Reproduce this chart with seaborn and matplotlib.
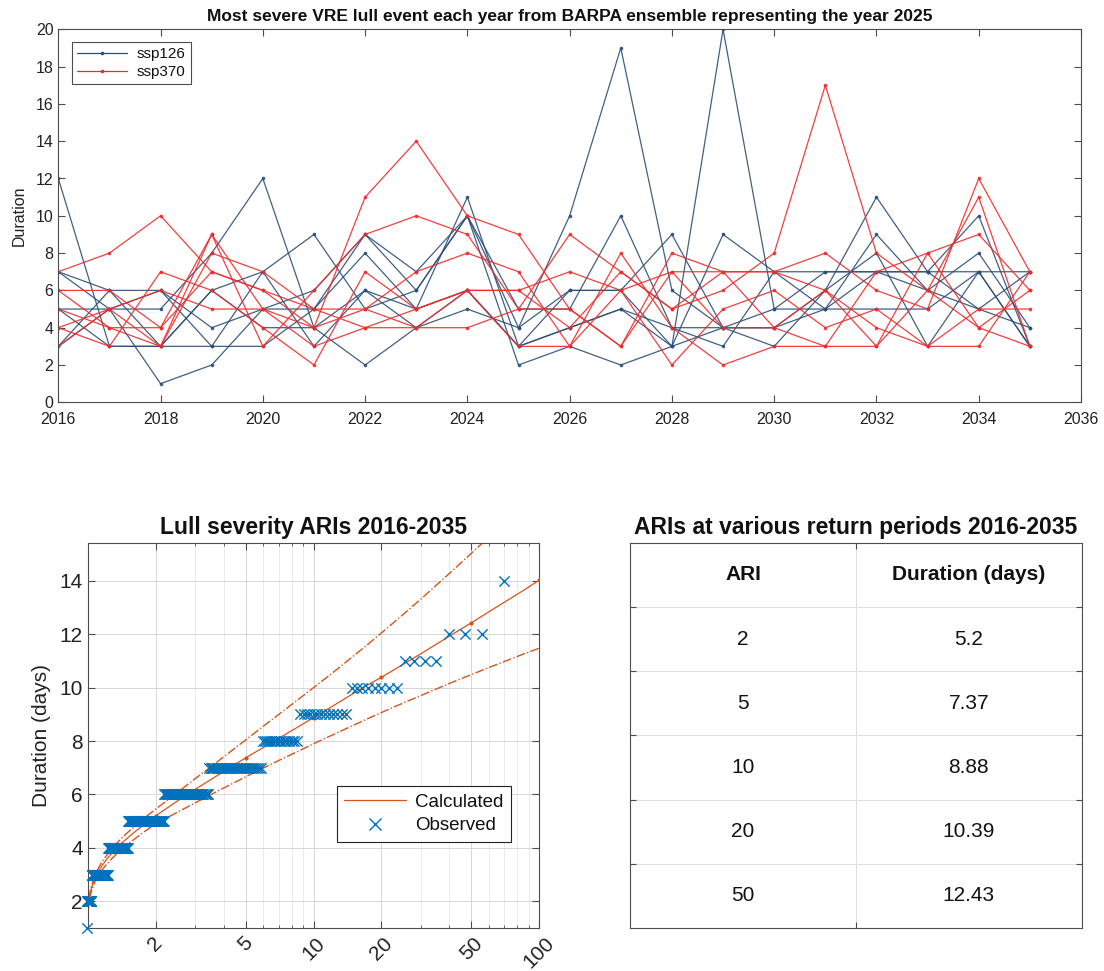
import numpy as np
import pandas as pd
import matplotlib
matplotlib.use("Agg")
import matplotlib.pyplot as plt
from matplotlib.lines import Line2D
from matplotlib.ticker import FixedLocator, LogLocator, NullFormatter
import seaborn as sns

# ---------------------------------------------------------------- data
years = list(range(2016, 2036))

# ssp126 ensemble members: longest lull (days) each year
ssp126_m1 = [12, 3, 3, 3, 7, 9, 5, 6, 10, 4, 6, 6, 3, 20, 5, 7, 7, 7, 7, 7]
ssp126_m2 = [7, 6, 6, 3, 3, 5, 8, 5, 11, 3, 4, 5, 4, 4, 3, 6, 11, 7, 10, 3]
ssp126_m3 = [7, 5, 1, 2, 5, 6, 9, 6, 10, 2, 3, 2, 3, 9, 7, 5, 9, 6, 8, 4]
ssp126_m4 = [5, 5, 5, 8, 12, 4, 2, 4, 5, 4, 10, 19, 6, 4, 4, 6, 8, 3, 7, 3]
ssp126_m5 = [3, 6, 3, 6, 7, 3, 6, 5, 6, 3, 6, 6, 9, 4, 5, 5, 5, 5, 7, 3]
ssp126_m6 = [3, 5, 6, 4, 5, 5, 9, 7, 10, 5, 5, 10, 4, 3, 7, 7, 7, 6, 5, 4]
ssp126_m7 = [5, 3, 3, 6, 4, 4, 6, 4, 6, 3, 4, 5, 3, 4, 4, 5, 7, 7, 5, 7]

# ssp370 ensemble members
ssp370_m1 = [7, 8, 10, 7, 6, 4, 11, 14, 10, 9, 5, 3, 8, 7, 7, 8, 6, 5, 12, 7]
ssp370_m2 = [6, 6, 4, 9, 3, 6, 9, 10, 9, 5, 9, 7, 5, 6, 8, 17, 8, 6, 11, 3]
ssp370_m3 = [5, 4, 3, 8, 7, 5, 5, 7, 8, 7, 3, 8, 4, 2, 3, 3, 3, 8, 9, 6]
ssp370_m4 = [4, 3, 7, 6, 4, 2, 7, 5, 6, 6, 7, 6, 2, 5, 6, 4, 5, 3, 5, 5]
ssp370_m5 = [3, 5, 6, 5, 5, 3, 4, 4, 4, 5, 5, 3, 7, 7, 4, 6, 4, 3, 3, 7]
ssp370_m6 = [6, 4, 4, 7, 6, 5, 4, 5, 6, 3, 3, 6, 7, 4, 4, 3, 7, 8, 4, 3]
ssp370_m7 = [4, 5, 3, 9, 5, 4, 5, 4, 6, 6, 4, 7, 5, 7, 7, 6, 3, 6, 4, 6]

# fitted ARI curve (days) with upper / lower confidence bounds
fit_ari = [1.0001, 1.001, 1.01, 1.03, 1.06, 1.1, 1.15, 1.2, 1.27, 1.35, 1.42,
           1.5, 1.6, 1.75, 1.87, 2, 2.5, 3, 3.5, 4, 5, 6, 7, 8.5, 10, 12, 15,
           17.5, 20, 25, 30, 40, 50, 60, 70, 85, 100]
fit_mid = [1.0, 1.32, 1.95, 2.38, 2.72, 3.03, 3.30, 3.52, 3.77, 4.01, 4.19,
           4.37, 4.57, 4.83, 5.02, 5.2, 5.76, 6.2, 6.55, 6.86, 7.37, 7.76, 8.10,
           8.52, 8.88, 9.28, 9.78, 10.12, 10.39, 10.88, 11.28, 11.93, 12.43,
           12.85, 13.2, 13.64, 14.03]
fit_upper = [1.0, 1.34, 2.01, 2.46, 2.82, 3.15, 3.44, 3.67, 3.93, 4.19, 4.38,
             4.57, 4.78, 5.06, 5.26, 5.45, 6.08, 6.60, 7.03, 7.41, 8.04, 8.56,
             8.99, 9.54, 10.0, 10.52, 11.18, 11.64, 12.05, 12.75, 13.33, 14.28,
             15.03, 15.66, 16.21, 16.90, 17.5]
fit_lower = [1.0, 1.30, 1.88, 2.28, 2.60, 2.88, 3.14, 3.34, 3.57, 3.79, 3.96,
             4.13, 4.31, 4.56, 4.73, 4.90, 5.34, 5.69, 5.99, 6.24, 6.66, 6.99,
             7.27, 7.61, 7.90, 8.21, 8.59, 8.85, 9.07, 9.43, 9.71, 10.16, 10.49,
             10.76, 10.98, 11.26, 11.48]

# observed lull durations (days) and how many events of each
obs_duration = [14, 12, 11, 10, 9, 8, 7, 6, 5, 4, 3, 2, 1]
obs_count = [1, 3, 4, 8, 13, 15, 34, 47, 57, 42, 42, 13, 1]

# summary table
table_ari = [2, 5, 10, 20, 50]
table_duration = [5.2, 7.37, 8.88, 10.39, 12.43]

# ---------------------------------------------------------------- style
sns.set_theme(style="ticks")
plt.rcParams["font.family"] = ["Liberation Sans", "DejaVu Sans"]
plt.rcParams.update({
    "xtick.direction": "in", "ytick.direction": "in",
    "xtick.top": True, "ytick.right": True,
    "axes.edgecolor": "#4d4d4d", "axes.linewidth": 0.8,
    "xtick.color": "#4d4d4d", "ytick.color": "#4d4d4d",
    "xtick.labelcolor": "#222222", "ytick.labelcolor": "#222222",
    "text.color": "#111111", "axes.labelcolor": "#222222",
})

BLUE = "#2b4f78"
RED = "#f02a2a"
ORANGE = "#d95319"
OBS = "#0072bd"
W, H = 1104, 971


def frac(left, top, right, bottom):
    return [left / W, 1 - bottom / H, (right - left) / W, (bottom - top) / H]


fig = plt.figure(figsize=(W / 100, H / 100), dpi=100)

# ---------------------------------------------------------------- top panel
members = {
    ("ssp126", 1): ssp126_m1, ("ssp126", 2): ssp126_m2, ("ssp126", 3): ssp126_m3,
    ("ssp126", 4): ssp126_m4, ("ssp126", 5): ssp126_m5, ("ssp126", 6): ssp126_m6,
    ("ssp126", 7): ssp126_m7,
    ("ssp370", 1): ssp370_m1, ("ssp370", 2): ssp370_m2, ("ssp370", 3): ssp370_m3,
    ("ssp370", 4): ssp370_m4, ("ssp370", 5): ssp370_m5, ("ssp370", 6): ssp370_m6,
    ("ssp370", 7): ssp370_m7,
}
rows = []
for (scen, m), vals in members.items():
    for y, v in zip(years, vals):
        rows.append({"year": y, "duration": v, "scenario": scen,
                     "member": f"{scen}_{m}"})
df = pd.DataFrame(rows)

ax1 = fig.add_axes(frac(58.3, 29.3, 1081, 402.3))
sns.lineplot(data=df, x="year", y="duration", hue="scenario", units="member",
             estimator=None, palette={"ssp126": BLUE, "ssp370": RED},
             hue_order=["ssp126", "ssp370"], marker="o", markersize=2.6,
             markeredgewidth=0, linewidth=0.9, alpha=0.9, ax=ax1)
ax1.set_xlim(2016, 2036)
ax1.set_ylim(0, 20)
ax1.set_xticks(range(2016, 2037, 2))
ax1.set_yticks(range(0, 21, 2))
ax1.tick_params(labelsize=11.5, length=5, width=0.8)
ax1.tick_params(axis="x", pad=7)
ax1.set_xlabel("")
ax1.set_ylabel("Duration", fontsize=11.5, labelpad=6)
ax1.set_title("Most severe VRE lull event each year from BARPA ensemble "
              "representing the year 2025", fontsize=12.5, fontweight="bold",
              pad=6)
leg_handles = [Line2D([0], [0], color=BLUE, lw=0.9, marker="o", ms=2.6, mew=0),
               Line2D([0], [0], color=RED, lw=0.9, marker="o", ms=2.6, mew=0)]
ax1.legend(leg_handles, ["ssp126", "ssp370"], loc="upper left",
           bbox_to_anchor=(0.0131, 0.9668), borderaxespad=0, fontsize=11,
           frameon=True, fancybox=False, edgecolor="#4d4d4d", framealpha=1,
           handlelength=3.3, borderpad=0.35, labelspacing=0.25,
           handletextpad=0.6)
ax1.get_legend().get_frame().set_linewidth(0.8)

# ---------------------------------------------------------------- ARI panel
ax2 = fig.add_axes(frac(87.7, 542.7, 539.3, 928))
ax2.set_xscale("log")

# empirical return periods from ranked events
n_obs = sum(obs_count)
obs_dur = np.repeat(obs_duration, obs_count)
rank = np.arange(1, n_obs + 1)
obs_ari = n_obs / (rank + 3.0)

sns.lineplot(x=fit_ari, y=fit_upper, estimator=None, sort=False, color=ORANGE,
             linestyle="-.", linewidth=1.0, ax=ax2, legend=False)
sns.lineplot(x=fit_ari, y=fit_lower, estimator=None, sort=False, color=ORANGE,
             linestyle="-.", linewidth=1.0, ax=ax2, legend=False)
sns.lineplot(x=fit_ari, y=fit_mid, estimator=None, sort=False, color=ORANGE,
             linewidth=0.9, ax=ax2, legend=False)
dot_ari = table_ari + [fit_ari[-1]]
dot_dur = table_duration + [fit_mid[-1]]
sns.scatterplot(x=dot_ari, y=dot_dur, color=ORANGE, s=9, linewidth=0,
                ax=ax2, legend=False, zorder=3)
sns.scatterplot(x=obs_ari, y=obs_dur, marker="x", color=OBS, s=55,
                linewidth=1.0, ax=ax2, legend=False, clip_on=False, zorder=4)

ax2.set_xlim(1, 100)
ax2.set_ylim(1, 15.43)
ax2.xaxis.set_major_locator(FixedLocator([2, 5, 10, 20, 50, 100]))
ax2.xaxis.set_minor_locator(LogLocator(base=10, subs=np.arange(1, 10)))
ax2.xaxis.set_minor_formatter(NullFormatter())
ax2.set_xticklabels(["2", "5", "10", "20", "50", "100"])
ax2.set_yticks(range(2, 15, 2))
ax2.tick_params(axis="both", which="major", labelsize=15, length=5, width=0.8)
ax2.tick_params(axis="x", which="major", labelrotation=45, pad=4)
ax2.tick_params(axis="x", which="minor", length=2.5, width=0.6)
ax2.grid(True, which="major", color="#d6d6d6", linewidth=0.7)
ax2.grid(True, which="minor", axis="x", color="#e8e8e8", linewidth=0.6)
ax2.set_axisbelow(True)
ax2.set_xlabel("")
ax2.set_ylabel("Duration (days)", fontsize=15, labelpad=6)
ax2.set_title("Lull severity ARIs 2016-2035", fontsize=16.5,
              fontweight="bold", pad=6)
for lbl in ax2.get_xticklabels():
    lbl.set_horizontalalignment("center")

h2 = [Line2D([0], [0], color=ORANGE, lw=0.9),
      Line2D([0], [0], color=OBS, lw=0, marker="x", ms=9, mew=1.0)]
ax2.legend(h2, ["Calculated", "Observed"], loc="upper left",
           bbox_to_anchor=(0.551, 0.3685), borderaxespad=0, fontsize=13.5,
           frameon=True, fancybox=False, edgecolor="#222222", framealpha=1,
           handlelength=3.3, borderpad=0.4, labelspacing=0.35,
           handletextpad=0.5)
ax2.get_legend().get_frame().set_linewidth(0.8)

# ---------------------------------------------------------------- table panel
ax3 = fig.add_axes(frac(630, 542.7, 1081.7, 928))
ax3.set_xlim(0, 2)
ax3.set_ylim(6, 0)
ax3.set_xticks([1])
ax3.set_yticks([1, 2, 3, 4, 5])
ax3.tick_params(labelbottom=False, labelleft=False, labeltop=False,
                labelright=False, length=4, width=0.8, top=True, right=True)
ax3.grid(True, color="#e0e0e0", linewidth=0.8)
ax3.set_axisbelow(True)
ax3.set_title("ARIs at various return periods 2016-2035", fontsize=16.5,
              fontweight="bold", pad=6)
ax3.text(0.5, 0.5, "ARI", ha="center", va="center", fontsize=15,
         fontweight="bold")
ax3.text(1.5, 0.5, "Duration (days)", ha="center", va="center", fontsize=15,
         fontweight="bold")
for i, (a, d) in enumerate(zip(table_ari, table_duration)):
    ax3.text(0.5, i + 1.5, f"{a:g}", ha="center", va="center", fontsize=15)
    ax3.text(1.5, i + 1.5, f"{d:g}", ha="center", va="center", fontsize=15)

fig.savefig("out.png", dpi=100)
